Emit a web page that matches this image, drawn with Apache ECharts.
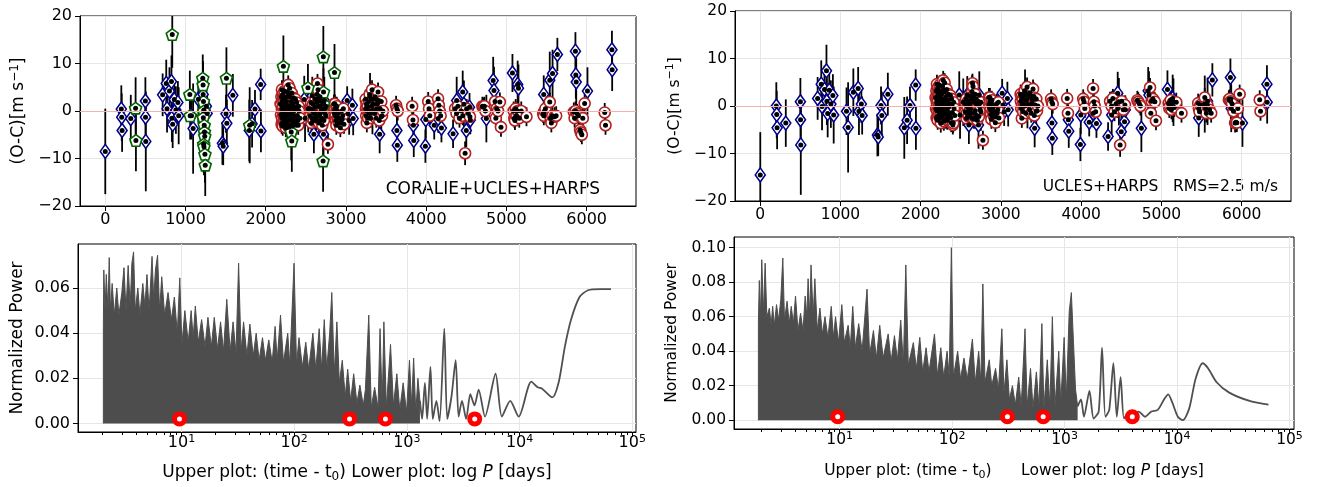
<!DOCTYPE html>
<html>
<head>
<meta charset="utf-8">
<script src="https://cdn.jsdelivr.net/npm/echarts@6/dist/echarts.min.js"></script>
<style>html,body{margin:0;padding:0;background:#fff}#c{width:1321px;height:487px}</style>
</head>
<body>
<div id="c"></div>
<script>
// ---------------- DATA ----------------
const timeTicks = [0, 1000, 2000, 3000, 4000, 5000, 6000];
const logPTicks = [1, 2, 3, 4, 5];            // log10 P (days)  -> 10^1 ... 10^5
const powTicksAll = [0, 0.02, 0.04, 0.06];
const powTicksUH = [0, 0.02, 0.04, 0.06, 0.08, 0.10];

// CORALIE residuals (only in the CORALIE+UCLES+HARPS fit): [t, O-C, err]
const coralie = [
  [378,0.6,6.5],[382,-6.2,6.5],[835,16.1,7],[1054,3.5,5],[1058,-1.0,5],[1215,6.9,5],[1219,5.5,5],
  [1224,2.0,6],[1228,0.0,6],[1222,-1.4,5],[1233,-3.0,5],[1236,-4.4,6],[1240,-5.3,6],[1226,-7.0,6],
  [1230,-7.5,6],[1242,-9.1,6],[1246,-11.4,6.5],[1510,6.9,6.5],[1800,-3.0,8],[2220,9.4,6.5],
  [2318,-4.4,6],[2325,-6.3,6.5],[2526,4.9,5],[2718,11.4,6.5],[2720,4.0,5],[2722,1.5,5],
  [2715,-10.5,6.5],[2857,8.1,6]
];

// UCLES residuals: [t, O-C (CORALIE+UCLES+HARPS fit), O-C (UCLES+HARPS fit), err]
const ucles = [
  [0,-8.5,-14.5,9],[200,0.4,0.0,5],[205,-1.3,-1.8,5],[210,-4.1,-4.6,4.5],[318,-1.6,-3.6,5],
  [500,2.1,0.9,5],[502,-1.3,-2.9,5],[505,-6.4,-8.2,10.5],[715,3.4,1.6,4.5],[760,5.8,4.6,5],
  [770,0.5,-0.1,5],[800,4.2,3.5,5],[825,6.2,7.4,5.5],[830,-1.5,1.0,5],[840,-2.8,-1.6,5],
  [860,2.4,3.3,4],[880,0.2,0.4,5],[905,1.8,2.2,4.5],[915,-1.0,-1.9,6],[1075,-1.0,-1.1,5],
  [1095,-3.7,-4.5,9.5],[1160,2.5,2.9,5],[1220,3.5,3.7,4.5],[1230,0.2,-1.1,5],[1260,1.0,0.4,4],
  [1270,-0.5,-2.0,4],[1460,-6.8,-6.1,4.5],[1470,-7.4,-6.5,4],[1505,-0.6,0.1,4],[1515,-2.6,-2.0,5],
  [1590,3.3,2.5,4.5],[1795,-4.1,-4.6,6.5],[1830,-2.7,-3.0,5],[1866,0.4,0.1,4],[1937,5.6,4.4,3.3],
  [1940,-4.2,-4.7,4.5],[2480,2.4,2.3,5],[2490,-1.5,-1.9,5],[2530,0.5,0.8,5],[2580,3.2,2.3,4],
  [2600,-4.9,-4.0,4],[2620,-0.3,-0.7,4],[2640,1.8,1.5,5],[2720,-4.9,-4.0,5],[2730,2.2,2.3,5],
  [2750,-1.0,-1.2,4],[3015,2.2,2.7,3],[3025,-0.6,0.2,3],[3040,-2.0,-1.2,3],[3080,1.2,1.6,3.5],
  [3090,-1.6,-0.8,3.5],[3300,3.0,2.7,5],[3330,0.1,0.3,5],[3410,2.2,2.0,3],[3420,-4.9,-4.7,4],
  [3440,-1.2,-1.1,3],[3635,-4.1,-3.6,3],[3640,-7.2,-6.8,3.5],[3840,-3.0,-2.9,3],[3845,-6.2,-5.3,3.5],
  [3990,-7.4,-8.1,3.5],[3995,-1.8,-1.9,4],[4100,-3.0,-3.4,3],[4150,-1.6,-1.5,3],[4190,-3.6,-3.7,3],
  [4335,-4.8,-6.4,3],[4380,2.2,-1.9,5],[4455,4.0,2.7,4.5],[4470,1.4,0.9,5],[4500,-4.1,-5.4,3.5],
  [4540,0.8,-3.3,3],[4550,-1.9,-0.8,3],[4750,-1.6,-4.7,5],[4835,6.4,3.2,5],[4845,4.3,2.3,5],
  [5075,8.0,3.5,4],[5140,5.6,1.6,5],[5150,4.8,0.8,5],[5465,3.5,-2.5,4],[5540,6.5,0.4,6],
  [5575,7.9,1.0,5],[5635,11.9,5.5,3.5],[5860,12.6,6.0,4],[5865,7.6,1.5,5],[5870,6.1,-0.5,5],
  [6010,4.2,-3.6,5],[6315,12.9,4.6,4],[6318,8.7,0.8,4.5]
];

// HARPS residuals: [t, O-C (CORALIE+UCLES+HARPS fit), O-C (UCLES+HARPS fit), err]
const harps = [
  [2185,1.5,1.8,2],[2190,-0.8,-0.5,2],[2195,3.0,3.2,2],[2198,-2.8,-2.5,2],[2200,0.5,0.8,2],
  [2202,4.5,4.6,2],[2203,-1.5,-1.0,2],[2206,2.0,1.8,2],[2207,0.0,0.2,2],[2209,-2.5,-2.2,2],
  [2211,-3.2,-3.0,2],[2212,3.5,3.8,2],[2215,1.0,1.2,2],[2217,2.5,2.6,2],[2220,-0.5,-0.3,2],
  [2223,-1.2,-1.0,2],[2225,3.0,3.2,2],[2227,1.8,2.0,2],[2230,-2.0,-1.6,2],[2233,4.2,4.4,2],
  [2237,-2.8,-2.5,2],[2240,0.0,0.3,2],[2244,2.8,3.0,2],[2247,-1.8,-1.5,2],[2250,-3.5,-3.6,2],
  [2253,0.8,1.0,2],[2258,2.0,2.4,2],[2262,-2.6,-2.3,2],[2265,-1.0,-0.8,2],[2268,1.2,1.5,2],
  [2272,4.0,4.2,2],[2276,-0.2,0.0,2],[2280,5.5,5.4,2],[2283,3.2,3.5,2],[2285,1.0,1.4,2],
  [2288,-3.4,-3.2,2],[2290,-2.0,-1.8,2],[2293,0.2,0.5,2],[2295,3.0,3.0,2],[2298,4.8,4.9,2],
  [2300,0.5,0.5,2],[2303,-0.8,-0.6,2],[2308,-1.5,-1.4,2],[2312,1.0,1.2,2],[2315,-3.0,-2.8,2],
  [2318,-1.8,-1.6,2],[2320,2.0,2.0,2],[2324,3.8,3.5,2],[2328,-0.5,-0.6,2],[2332,-3.2,-3.0,2],
  [2335,1.5,1.2,2],[2338,0.8,0.6,2],[2342,-2.5,-2.4,2],[2346,2.8,2.5,2],[2350,0.0,-0.2,2],
  [2355,-1.8,-2.0,2],[2360,-1.0,-1.4,2],[2365,0.8,0.5,2],[2370,2.5,2.2,2],[2375,-2.0,-2.4,2],
  [2380,-3.0,-3.5,2],[2385,1.8,1.5,2],[2390,0.5,0.2,2],[2395,-1.0,-1.4,2],[2400,-2.0,-4.0,2],
  [2405,-3.0,-3.6,2],[2410,1.0,0.8,2],[2415,0.0,-0.5,2],[2425,-1.5,-2.0,2],
  [2555,-1.0,-1.2,2],[2560,0.5,0.3,2],[2565,1.8,1.5,2],[2570,-2.5,-2.6,2],[2575,-1.5,-1.5,2],
  [2582,0.0,-0.2,2],[2590,1.5,1.0,2],[2597,-2.0,-2.2,2],[2605,-0.5,-1.0,2],[2612,0.8,0.5,2],
  [2620,2.5,2.0,2],[2628,-1.2,-1.5,2],[2635,-2.0,-2.5,2],[2640,3.5,3.0,2],[2645,5.8,4.8,2],
  [2652,4.5,4.1,2],[2656,2.5,2.2,2],[2660,1.0,1.2,2],[2664,-2.5,-2.8,2],[2668,-1.0,-1.5,2],
  [2672,1.0,0.8,2],[2676,3.0,2.5,2],[2680,-0.5,-1.0,2],[2685,-2.0,-2.5,2],[2690,2.0,1.5,2],
  [2695,0.0,0.5,2],[2700,-1.5,-2.0,2],[2705,-3.0,-3.0,2],[2710,0.5,0.2,2],[2715,1.5,1.0,2],
  [2725,-2.0,-2.2,2],[2733,0.5,0.5,2],[2740,-0.5,-0.8,2],[2750,1.0,0.8,2],[2775,-7.0,-7.2,2],
  [2850,1.5,1.8,2],[2853,0.0,0.3,2],[2858,-0.5,-0.3,2],[2862,1.5,1.8,2],[2866,0.5,1.0,2],
  [2870,-1.0,-0.8,2],[2875,-2.0,-1.8,2],[2880,-3.0,-2.8,2],[2885,1.0,1.2,2],[2890,0.0,0.3,2],
  [2895,-1.5,-1.0,2],[2903,-0.5,-0.2,2],[2910,-2.5,-2.0,2],[2918,-1.5,-1.2,2],[2930,-3.5,-3.5,2],
  [2938,-2.5,-2.3,2],[2945,0.0,0.5,2],[2952,-1.8,-1.5,2],[2960,-1.0,-0.8,2],[2968,0.5,0.8,2],
  [2975,-2.8,-2.5,2],
  [3245,2.5,2.5,2],[3248,0.5,1.0,2],[3252,-1.0,-0.5,2],[3256,1.5,2.0,2],[3260,-2.5,-2.6,2],
  [3265,0.0,0.3,2],[3270,1.0,1.5,2],[3276,-1.5,-1.2,2],[3282,0.0,0.5,2],[3288,2.0,2.2,2],
  [3295,3.5,3.2,2],[3300,-0.5,0.0,2],[3310,-1.5,-1.5,2],[3318,1.0,1.2,2],[3325,4.5,4.0,2],
  [3332,2.5,2.5,2],[3340,1.5,1.8,2],[3348,0.0,0.2,2],[3355,-0.5,-0.8,2],[3362,3.0,2.8,2],
  [3370,2.5,2.2,2],[3378,-1.5,-1.5,2],[3385,0.5,0.5,2],[3392,1.5,1.3,2],[3400,4.0,3.6,2],
  [3408,2.0,1.8,2],[3415,-2.0,-2.0,2],[3425,0.5,0.2,2],[3440,2.0,1.5,2],[3450,-1.0,-1.0,2],
  [3460,0.0,0.0,2],
  [3625,1.2,1.5,2],[3635,0.5,0.8,2],[3645,0.0,0.4,2],[3825,1.0,1.6,2],[3835,-1.9,-1.5,2],
  [4025,2.0,1.5,2],[4035,0.5,0.9,2],[4045,-1.0,-0.5,2],[4148,2.6,3.7,2],[4158,1.2,0.9,2],
  [4168,0.0,0.0,2],[4180,-1.0,-1.2,2],
  [4360,0.5,1.0,2],[4378,-0.5,0.0,2],[4395,1.0,1.6,2],[4415,-1.5,-1.2,2],[4435,0.0,0.5,2],
  [4455,-1.0,-0.5,2],[4485,-8.9,-8.2,2.5],[4505,0.5,1.0,2],[4525,-0.5,-0.8,2],[4545,-1.2,0.2,2],
  [4700,1.0,1.2,2],[4712,0.8,0.9,2],[4725,1.0,0.5,2],[4738,0.0,0.0,2],
  [4858,2.0,3.9,2],[4868,-1.5,-1.5,2],[4878,0.5,1.0,2],[4895,0.0,1.5,2],[4918,1.9,0.9,2],
  [4932,-3.4,-3.1,2],
  [5090,0.0,0.6,2],[5098,-1.5,-0.5,2],[5106,-2.0,0.0,2],[5115,0.5,1.2,2],[5125,-1.0,-0.8,2],
  [5138,0.0,0.6,2],[5160,-1.5,-0.3,2],[5185,0.0,0.8,2],[5250,-1.2,-1.5,2],
  [5458,-0.5,0.6,2],[5466,-1.0,-0.5,2],[5475,0.0,-1.2,2],[5486,0.5,0.2,2],[5540,1.9,1.8,2],
  [5550,-1.5,-0.5,2],[5560,-2.5,-1.5,2],[5572,-1.0,0.2,2],[5600,-1.2,-0.8,2],[5620,-1.0,-1.5,2],
  [5840,-0.2,1.3,2],[5850,-1.5,1.5,2],[5862,0.0,1.0,2],[5880,-0.5,0.5,2],[5898,-1.0,-1.1,2],
  [5918,-4.0,-3.6,2],[5928,-4.5,-3.4,2],[5940,-5.0,-3.5,2],[5952,-1.5,-0.5,2],[5975,1.6,2.5,2],
  [6225,-0.3,1.3,2],[6235,-3.0,-1.1,2]
];

// Periodogram of CORALIE+UCLES+HARPS residuals: [log10 P(days), power]
const pgAllDense = [
  [0.307,0],[0.307,0.043],[0.311,0.068],[0.322,0.050],[0.333,0.066],[0.348,0.050],[0.359,0.0735],
  [0.370,0.050],[0.385,0.062],[0.404,0.048],[0.426,0.060],[0.445,0.048],[0.471,0.058],[0.490,0.069],
  [0.508,0.050],[0.527,0.070],[0.545,0.052],[0.560,0.071],[0.575,0.076],[0.590,0.050],[0.613,0.060],
  [0.631,0.048],[0.657,0.062],[0.676,0.052],[0.694,0.066],[0.713,0.050],[0.739,0.074],[0.754,0.055],
  [0.769,0.068],[0.788,0.0745],[0.806,0.050],[0.825,0.065],[0.851,0.048],[0.881,0.058],[0.911,0.046],
  [0.937,0.056],[0.963,0.040],[0.985,0.0645],[1.004,0.035],[1.030,0.050],[1.060,0.036],[1.086,0.050],
  [1.104,0.038],[1.123,0.052],[1.149,0.036],[1.179,0.046],[1.209,0.034],[1.235,0.047],[1.265,0.034],
  [1.291,0.047],[1.320,0.033],[1.347,0.045],[1.373,0.032],[1.402,0.055],[1.432,0.032],[1.458,0.045],
  [1.484,0.031],[1.507,0.071],[1.529,0.032],[1.551,0.045],[1.581,0.030],[1.607,0.044],[1.637,0.030],
  [1.663,0.040],[1.689,0.028],[1.719,0.038],[1.745,0.028],[1.775,0.037],[1.805,0.027],[1.831,0.043],
  [1.849,0.028],[1.879,0.048],[1.905,0.027],[1.943,0.040],[1.961,0.026],[1.999,0.071],[2.021,0.026],
  [2.043,0.038],[2.073,0.025],[2.103,0.036],[2.129,0.024],[2.166,0.040],[2.192,0.024],[2.222,0.042],
  [2.244,0.024],[2.267,0.046],[2.289,0.024],[2.315,0.040],[2.334,0.058],[2.356,0.022],[2.379,0.045],
  [2.401,0.018],[2.427,0.028],[2.453,0.012],[2.475,0.024],[2.501,0.010],[2.528,0.022],[2.557,0.009],
  [2.583,0.017],[2.613,0.008],[2.632,0.015],[2.662,0.048],[2.684,0.007],[2.714,0.016],[2.744,0.007],
  [2.762,0.042],[2.781,0.008],[2.796,0.045],[2.818,0.007],[2.855,0.035],[2.881,0.008],[2.911,0.022],
  [2.937,0.006],[2.967,0.018],[2.997,0.005],[3.023,0.028],[3.042,0.008],[3.060,0.029],[3.079,0.005],
  [3.098,0.020],[3.116,0.010]
];
const pgAllTail = [
  [3.116,0.010],[3.135,0.002],[3.160,0.018],[3.180,0.002],[3.209,0.025],[3.230,0.002],[3.262,0.010],
  [3.290,0.001],[3.332,0.042],[3.358,0.002],[3.396,0.012],[3.433,0.028],[3.459,0.003],[3.489,0.010],
  [3.526,0.002],[3.563,0.013],[3.600,0.008],[3.637,0.015],[3.693,0.003],[3.787,0.022],[3.843,0.003],
  [3.917,0.010],[3.992,0.003],[4.104,0.0185],[4.160,0.016],[4.197,0.0155],[4.290,0.0115],[4.346,0.018],
  [4.402,0.034],[4.457,0.046],[4.532,0.056],[4.607,0.059],[4.718,0.0595],[4.811,0.0595]
];

// Periodogram of UCLES+HARPS residuals: [log10 P(days), power]
const pgUHDense = [
  [0.277,0],[0.277,0.057],[0.285,0.081],[0.296,0.060],[0.307,0.093],[0.322,0.062],[0.337,0.091],
  [0.352,0.060],[0.375,0.065],[0.390,0.055],[0.404,0.066],[0.419,0.055],[0.438,0.067],[0.457,0.058],
  [0.476,0.070],[0.494,0.094],[0.509,0.058],[0.532,0.069],[0.551,0.056],[0.569,0.066],[0.588,0.056],
  [0.607,0.072],[0.629,0.052],[0.652,0.062],[0.674,0.052],[0.693,0.072],[0.708,0.060],[0.719,0.082],
  [0.734,0.060],[0.745,0.090],[0.764,0.060],[0.779,0.082],[0.801,0.052],[0.824,0.065],[0.846,0.050],
  [0.869,0.060],[0.895,0.048],[0.925,0.066],[0.944,0.048],[0.963,0.060],[0.989,0.045],[1.019,0.067],
  [1.041,0.045],[1.075,0.055],[1.094,0.042],[1.116,0.066],[1.139,0.042],[1.169,0.056],[1.199,0.040],
  [1.243,0.076],[1.266,0.038],[1.300,0.052],[1.326,0.036],[1.356,0.055],[1.386,0.036],[1.431,0.050],
  [1.457,0.034],[1.487,0.049],[1.513,0.035],[1.543,0.058],[1.566,0.032],[1.588,0.090],[1.610,0.032],
  [1.655,0.045],[1.682,0.030],[1.712,0.048],[1.738,0.028],[1.768,0.042],[1.794,0.028],[1.843,0.050],
  [1.869,0.026],[1.899,0.042],[1.925,0.025],[1.955,0.040],[1.974,0.025],[1.993,0.100],[2.011,0.025],
  [2.049,0.040],[2.075,0.024],[2.105,0.036],[2.135,0.024],[2.180,0.047],[2.206,0.022],[2.236,0.040],
  [2.255,0.022],[2.273,0.079],[2.292,0.022],[2.330,0.035],[2.352,0.020],[2.386,0.030],[2.412,0.018],
  [2.442,0.053],[2.461,0.016],[2.487,0.035],[2.509,0.012],[2.536,0.020],[2.562,0.009],[2.592,0.025],
  [2.614,0.008],[2.648,0.053],[2.667,0.008],[2.697,0.030],[2.719,0.007],[2.749,0.028],[2.772,0.008],
  [2.798,0.056],[2.816,0.007],[2.846,0.035],[2.869,0.008],[2.891,0.060],[2.914,0.008],[2.948,0.040],
  [2.966,0.010],[2.996,0.048],[3.015,0.012],[3.041,0.063],[3.060,0.074],[3.079,0.045],[3.097,0.018],
  [3.116,0.008]
];
const pgUHTail = [
  [3.116,0.008],[3.146,0.012],[3.172,0.002],[3.221,0.017],[3.258,0.001],[3.303,0.005],[3.333,0.042],
  [3.363,0.002],[3.397,0.006],[3.434,0.033],[3.464,0.002],[3.498,0.025],[3.528,0.001],[3.566,0.004],
  [3.596,0.002],[3.659,0.005],[3.715,0.002],[3.772,0.005],[3.828,0.006],[3.884,0.012],[3.921,0.015],
  [3.959,0.010],[4.007,0.002],[4.052,0.000],[4.109,0.007],[4.165,0.024],[4.228,0.033],[4.277,0.030],
  [4.352,0.022],[4.464,0.016],[4.652,0.011],[4.813,0.009]
];

// Periods (days) marked with red circles on the periodograms
const planetPeriods = [9.6, 310, 645, 4000];
const planetMarkPower = 0.002;

// ---------------- CHART ----------------
const F = 'DejaVu Sans';
const GRIDC = '#e6e6e6';
const chart = echarts.init(document.getElementById('c'), null, {renderer: 'canvas', width: 1321, height: 487});

const minorLog = [];
for (let n = 0; n <= 4; n++) for (let k = 2; k <= 9; k++) minorLog.push(n + Math.log10(k));

const ocFmt = v => String(v).replace('-', '\u2212');
const powFmt = v => v.toFixed(2);
const logFmt = v => '{b|10}{s|' + Math.round(v) + '}';
function logRich(fs) {
  return {
    b: {fontSize: fs, fontFamily: F, color: '#000', lineHeight: 18},
    s: {fontSize: Math.round(fs * 0.7), fontFamily: F, color: '#000', lineHeight: 8, verticalAlign: 'top'}
  };
}
const axLine = {show: true, onZero: false, lineStyle: {color: '#000', width: 1}};

function xAx(gi, min, max, ticks, fs, fmt, rich, name, nameFs, nameGap) {
  const o = {
    gridIndex: gi, type: 'value', min: min, max: max, position: 'bottom',
    axisLine: axLine,
    axisTick: {show: true, length: 5, customValues: ticks, lineStyle: {color: '#000', width: 1}},
    axisLabel: {customValues: ticks, margin: rich ? 2 : 5, fontSize: fs, fontFamily: F, color: '#000', lineHeight: 18, formatter: fmt},
    splitLine: {show: true, lineStyle: {color: GRIDC, width: 1}}
  };
  if (rich) o.axisLabel.rich = rich;
  if (name) {
    o.name = name; o.nameLocation = 'middle'; o.nameGap = nameGap;
    o.nameTextStyle = {fontSize: nameFs, fontFamily: F, color: '#000', lineHeight: 20,
      rich: {
        sub: {fontSize: Math.round(nameFs * 0.7), fontFamily: F, color: '#000', lineHeight: 10, verticalAlign: 'bottom'},
        it: {fontSize: nameFs, fontFamily: F, fontStyle: 'italic', color: '#000', lineHeight: 20}
      }};
  }
  return o;
}
function minorAx(gi, min, max, h) {
  return {
    gridIndex: gi, type: 'value', min: min, max: max, position: 'top', offset: -h,
    axisLine: {show: false}, axisLabel: {show: false}, splitLine: {show: false},
    axisTick: {show: true, inside: true, length: 3, customValues: minorLog.filter(v => v > min && v < max), lineStyle: {color: '#000', width: 1}}
  };
}
function yAx(gi, min, max, extra, fs, name, nameFs, nameGap, rich) {
  const o = {
    gridIndex: gi, type: 'value', min: min, max: max,
    axisLine: axLine,
    axisTick: {show: true, length: 5, lineStyle: {color: '#000', width: 1}},
    axisLabel: {margin: 8, fontSize: fs, fontFamily: F, color: '#000'},
    splitLine: {show: true, lineStyle: {color: GRIDC, width: 1}},
    name: name, nameLocation: 'middle', nameGap: nameGap,
    nameTextStyle: {fontSize: nameFs, fontFamily: F, color: '#000', lineHeight: 20}
  };
  if (extra.interval) o.interval = extra.interval;
  if (extra.ticks) { o.axisTick.customValues = extra.ticks; o.axisLabel.customValues = extra.ticks; }
  o.axisLabel.formatter = extra.fmt;
  if (rich) o.nameTextStyle.rich = rich;
  return o;
}
const supRich = fs => ({sup: {fontSize: Math.round(fs * 0.7), fontFamily: F, color: '#000', lineHeight: 10, verticalAlign: 'top'}});

function errBars(xi, yi, rows) {
  return {
    type: 'custom', xAxisIndex: xi, yAxisIndex: yi, z: 2, silent: true, animation: false,
    data: rows, encode: {x: 0, y: 1},
    renderItem: function (params, api) {
      const t = api.value(0), v = api.value(1), e = api.value(2);
      const a = api.coord([t, v - e]), b = api.coord([t, v + e]);
      const cs = params.coordSys;
      const cl = y => Math.max(cs.y, Math.min(cs.y + cs.height, y));
      return {type: 'line', shape: {x1: a[0], y1: cl(a[1]), x2: b[0], y2: cl(b[1])}, style: {stroke: '#000', lineWidth: 1.8}};
    }
  };
}
function markers(xi, yi, pts, symbol, size, edge) {
  return {type: 'scatter', xAxisIndex: xi, yAxisIndex: yi, data: pts, symbol: symbol, symbolSize: size,
    itemStyle: {color: '#fff', borderColor: edge, borderWidth: 1.6, opacity: 1}, z: 3, silent: true, animation: false};
}
function dots(xi, yi, pts) {
  return {type: 'scatter', xAxisIndex: xi, yAxisIndex: yi, data: pts, symbol: 'circle', symbolSize: 5,
    itemStyle: {color: '#000', opacity: 1}, z: 4, silent: true, animation: false};
}
function zeroLine(xi, yi) {
  return {type: 'scatter', xAxisIndex: xi, yAxisIndex: yi, data: [], z: 1, silent: true, animation: false,
    markLine: {silent: true, symbol: ['none', 'none'], label: {show: false}, animation: false,
      lineStyle: {color: '#f3b1b1', width: 1.2, type: 'solid', opacity: 1}, data: [{yAxis: 0}]}};
}
const PENT = 'path://M0,-10 L9.51,-3.09 L5.88,8.09 L-5.88,8.09 L-9.51,-3.09 Z';

const tlRows = coralie.map(r => [r[0], r[1], r[2]])
  .concat(ucles.map(r => [r[0], r[1], r[3]]))
  .concat(harps.map(r => [r[0], r[1], r[3]]));
const trRows = ucles.map(r => [r[0], r[2], r[3]]).concat(harps.map(r => [r[0], r[2], r[3]]));
const planetPts = planetPeriods.map(p => [Math.log10(p), planetMarkPower]);

function pgSeries(xi, yi, dense, tail) {
  return [
    {type: 'line', xAxisIndex: xi, yAxisIndex: yi, data: dense, showSymbol: false, symbol: 'none',
      lineStyle: {color: '#4d4d4d', width: 1}, areaStyle: {color: '#4d4d4d', opacity: 1}, z: 2, silent: true, animation: false},
    {type: 'line', xAxisIndex: xi, yAxisIndex: yi, data: tail, showSymbol: false, symbol: 'none', smooth: 0.25,
      lineStyle: {color: '#505050', width: 1.8}, z: 2, silent: true, animation: false},
    {type: 'scatter', xAxisIndex: xi, yAxisIndex: yi, data: planetPts, symbol: 'circle', symbolSize: 15,
      itemStyle: {color: '#ff0000', opacity: 1}, z: 5, silent: true, animation: false},
    {type: 'scatter', xAxisIndex: xi, yAxisIndex: yi, data: planetPts, symbol: 'circle', symbolSize: 5,
      itemStyle: {color: '#ffffff', opacity: 1}, z: 6, silent: true, animation: false}
  ];
}

const gridBase = {show: true, borderColor: '#000', borderWidth: 1, backgroundColor: 'transparent', containLabel: false};
const xName = 'Upper plot: (time - t{sub|0}) Lower plot: log {it|P} [days]';
const xNameR = 'Upper plot: (time - t{sub|0})      Lower plot: log {it|P} [days]';

const option = {
  animation: false,
  backgroundColor: '#fff',
  grid: [
    Object.assign({left: 80, top: 16, width: 556, height: 190}, gridBase),
    Object.assign({left: 735, top: 11, width: 556, height: 190}, gridBase),
    Object.assign({left: 78, top: 244, width: 558, height: 188}, gridBase),
    Object.assign({left: 734, top: 237, width: 560, height: 192}, gridBase)
  ],
  xAxis: [
    xAx(0, -315, 6615, timeTicks, 16, v => String(v)),
    xAx(1, -315, 6615, timeTicks, 15.5, v => String(v)),
    xAx(2, 0.082, 5.033, logPTicks, 16, logFmt, logRich(16), xName, 17, 31),
    xAx(3, 0.06, 5.04, logPTicks, 15.5, logFmt, logRich(15.5), xNameR, 15.5, 32),
    minorAx(2, 0.082, 5.033, 188),
    minorAx(3, 0.06, 5.04, 192)
  ],
  yAxis: [
    yAx(0, -20, 20, {interval: 10, fmt: ocFmt}, 16, '(O-C)[m s{sup|\u22121}]', 17, 51, supRich(17)),
    yAx(1, -20, 20, {interval: 10, fmt: ocFmt}, 15.5, '(O-C)[m s{sup|\u22121}]', 15.5, 50, supRich(15.5)),
    yAx(2, -0.0038, 0.0795, {ticks: powTicksAll, fmt: powFmt}, 16, 'Normalized Power', 17, 50),
    yAx(3, -0.0051, 0.1062, {ticks: powTicksUH, fmt: powFmt}, 15.5, 'Normalized Power', 15.5, 52)
  ],
  graphic: [
    {type: 'text', x: 600, y: 190, silent: true,
      style: {text: 'CORALIE+UCLES+HARPS', font: '17px "DejaVu Sans"', fill: '#000', textAlign: 'right', textVerticalAlign: 'middle', align: 'right', verticalAlign: 'middle'}},
    {type: 'text', x: 1278, y: 187, silent: true,
      style: {text: 'UCLES+HARPS   RMS=2.5 m/s', font: '15.5px "DejaVu Sans"', fill: '#000', textAlign: 'right', textVerticalAlign: 'middle', align: 'right', verticalAlign: 'middle'}}
  ],
  series: [
    zeroLine(0, 0),
    errBars(0, 0, tlRows),
    markers(0, 0, ucles.map(r => [r[0], r[1]]), 'diamond', [10, 14], '#00008b'),
    markers(0, 0, harps.map(r => [r[0], r[1]]), 'circle', 11, '#b22222'),
    markers(0, 0, coralie.map(r => [r[0], r[1]]), PENT, [12, 11.5], '#006400'),
    dots(0, 0, tlRows.map(r => [r[0], r[1]])),

    zeroLine(1, 1),
    errBars(1, 1, trRows),
    markers(1, 1, ucles.map(r => [r[0], r[2]]), 'diamond', [10, 14], '#00008b'),
    markers(1, 1, harps.map(r => [r[0], r[2]]), 'circle', 11, '#b22222'),
    dots(1, 1, trRows.map(r => [r[0], r[1]]))
  ].concat(pgSeries(2, 2, pgAllDense, pgAllTail)).concat(pgSeries(3, 3, pgUHDense, pgUHTail))
};
chart.setOption(option);
</script>
</body>
</html>
